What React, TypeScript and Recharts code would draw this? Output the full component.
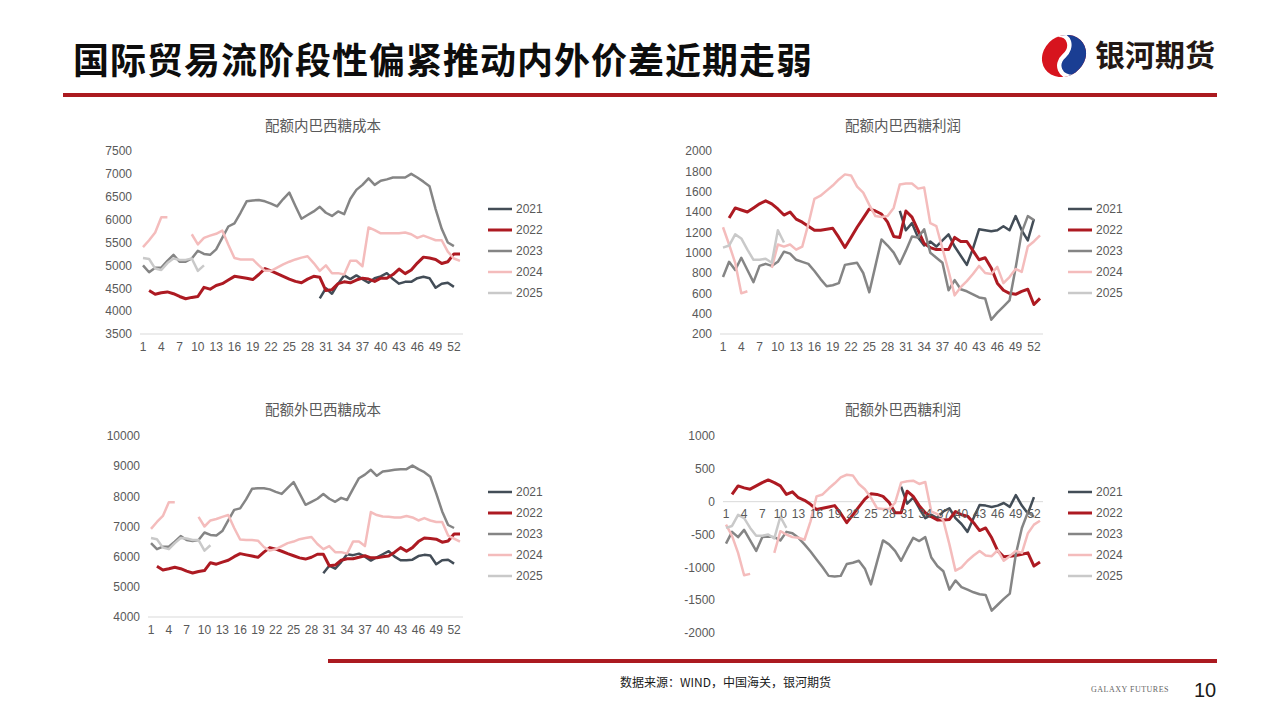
import React from 'react';
import { LineChart, Line, XAxis, YAxis, Legend, ReferenceLine } from 'recharts';

const _ = null;

const weeks = ['1','2','3','4','5','6','7','8','9','10','11','12','13','14','15','16','17','18','19','20','21','22','23','24','25','26','27','28','29','30','31','32','33','34','35','36','37','38','39','40','41','42','43','44','45','46','47','48','49','50','51','52','53'];
const seriesNames = ['2021', '2022', '2023', '2024', '2025'];
const seriesColors = ['#434d57', '#ad1a22', '#858585', '#f4bcbc', '#c9c9c9'];
const seriesWidths = [2.5, 3, 2.5, 2.5, 2.5];

// 配额内巴西糖成本
const inCost2021 = [_,_,_,_,_,_,_,_,_,_,_,_,_,_,_,_,_,_,_,_,_,_,_,_,_,_,_,_,_,4280,4500,4380,4600,4780,4700,4780,4700,4620,4720,4760,4830,4700,4600,4640,4640,4720,4750,4720,4510,4600,4620,4530,_];
const inCost2022 = [_,4450,4370,4400,4420,4380,4320,4270,4300,4320,4520,4480,4560,4600,4680,4760,4740,4720,4690,4800,4930,4880,4820,4760,4700,4650,4620,4700,4760,4740,4450,4470,4600,4640,4620,4680,4720,4700,4650,4720,4720,4800,4920,4820,4900,5050,5180,5160,5130,5040,5080,5250,5250];
const inCost2023 = [5000,4850,4950,4950,5100,5230,5080,5080,5150,5320,5250,5230,5350,5600,5850,5920,6150,6400,6420,6430,6400,6350,6290,6450,6590,6300,6020,6100,6180,6280,6150,6080,6180,6120,6450,6650,6760,6900,6760,6850,6880,6920,6920,6920,7000,6920,6830,6730,6230,5800,5500,5420,_];
const inCost2024 = [5400,5550,5720,6050,6050,_,_,_,5680,5460,5600,5650,5690,5760,5450,5160,5130,5130,5130,5000,4880,4880,4950,5020,5080,5130,5170,5200,5050,4880,5000,4830,4830,4800,5100,5100,4980,5830,5770,5700,5700,5700,5700,5720,5680,5600,5650,5600,5550,5550,5300,5150,5100];
const inCost2025 = [5160,5140,4930,4900,5050,5150,5120,5120,5150,4880,5000,_,_,_,_,_,_,_,_,_,_,_,_,_,_,_,_,_,_,_,_,_,_,_,_,_,_,_,_,_,_,_,_,_,_,_,_,_,_,_,_,_,_];

// 配额内巴西糖利润
const inProfit2021 = [_,_,_,_,_,_,_,_,_,_,_,_,_,_,_,_,_,_,_,_,_,_,_,_,_,_,_,_,_,1410,1220,1290,1150,1070,1110,1060,1120,1180,1060,970,880,1040,1230,1220,1210,1220,1260,1220,1360,1220,1120,1330,_];
const inProfit2022 = [_,1340,1440,1420,1400,1440,1480,1510,1480,1430,1370,1400,1330,1300,1260,1220,1220,1230,1240,1150,1050,1150,1250,1340,1430,1410,1380,1300,1160,1150,1410,1350,1220,1090,1050,1030,1030,1030,1150,1110,1110,1020,930,950,850,700,630,600,590,620,640,490,550];
const inProfit2023 = [760,910,830,950,830,710,870,890,870,910,1010,990,930,910,890,820,740,670,680,700,880,890,900,800,610,870,1130,1070,1000,890,1020,1160,1150,1230,1000,950,900,630,730,640,620,590,560,550,340,410,470,530,850,1200,1360,1320,_];
const inProfit2024 = [1250,1080,900,600,620,_,_,_,850,1080,1060,1080,1030,1060,1280,1530,1560,1610,1660,1720,1770,1760,1650,1590,1470,1360,1350,1360,1440,1670,1680,1680,1630,1640,1290,1260,1040,820,580,660,720,790,870,800,790,860,700,760,840,810,1060,1110,1170];
const inProfit2025 = [1050,1070,1180,1140,1030,930,930,940,900,1220,1100,_,_,_,_,_,_,_,_,_,_,_,_,_,_,_,_,_,_,_,_,_,_,_,_,_,_,_,_,_,_,_,_,_,_,_,_,_,_,_,_,_,_];

// 配额外巴西糖成本
const outCost2021 = [_,_,_,_,_,_,_,_,_,_,_,_,_,_,_,_,_,_,_,_,_,_,_,_,_,_,_,_,_,5450,5700,5600,5820,6080,6050,6100,6000,5870,5980,6080,6180,6000,5880,5880,5900,6020,6060,6040,5750,5880,5900,5770,_];
const outCost2022 = [_,5680,5560,5600,5650,5600,5520,5460,5510,5540,5800,5750,5820,5880,6000,6100,6060,6020,5980,6150,6300,6250,6180,6100,6030,5960,5920,5980,6080,6080,5700,5720,5880,5930,5930,5980,6030,5960,5960,6000,6020,6150,6300,6180,6300,6500,6620,6600,6580,6480,6520,6750,6750];
const outCost2023 = [6450,6250,6330,6330,6500,6680,6550,6520,6550,6800,6720,6700,6850,7200,7550,7600,7900,8250,8270,8270,8230,8150,8080,8280,8470,8100,7720,7820,7920,8080,7920,7820,7950,7880,8250,8600,8720,8880,8680,8820,8850,8880,8900,8900,9020,8900,8800,8650,8100,7500,7050,6950,_];
const outCost2024 = [6920,7150,7350,7800,7800,_,_,_,7320,7000,7200,7250,7320,7380,6950,6570,6550,6550,6530,6320,6200,6250,6350,6450,6500,6580,6620,6650,6420,6250,6350,6150,6150,6100,6500,6500,6350,7480,7380,7330,7320,7300,7300,7350,7300,7200,7280,7200,7150,7150,6700,6600,6500];
const outCost2025 = [6620,6580,6300,6250,6450,6620,6600,6550,6550,6200,6380,_,_,_,_,_,_,_,_,_,_,_,_,_,_,_,_,_,_,_,_,_,_,_,_,_,_,_,_,_,_,_,_,_,_,_,_,_,_,_,_,_,_];

// 配额外巴西糖利润
const outProfit2021 = [_,_,_,_,_,_,_,_,_,_,_,_,_,_,_,_,_,_,_,_,_,_,_,_,_,_,_,_,_,230,-30,60,-100,-250,-200,-250,-150,-100,-250,-340,-460,-250,-50,-60,-80,-60,-20,-80,100,-60,-180,70,_];
const outProfit2022 = [_,110,240,210,190,240,290,330,290,240,110,150,60,20,-40,-120,-100,-80,-60,-180,-320,-200,-80,40,120,110,80,-10,-170,-170,160,80,-60,-170,-230,-280,-280,-270,-150,-200,-220,-320,-440,-400,-550,-750,-840,-830,-820,-800,-780,-980,-920];
const outProfit2023 = [-640,-460,-540,-430,-590,-750,-540,-530,-540,-590,-460,-480,-550,-650,-760,-880,-1000,-1130,-1140,-1130,-950,-930,-900,-1020,-1260,-920,-590,-650,-750,-900,-720,-550,-600,-540,-850,-980,-1060,-1340,-1200,-1300,-1340,-1380,-1410,-1420,-1660,-1570,-1480,-1400,-800,-400,-160,-230,_];
const outProfit2024 = [-350,-520,-780,-1120,-1100,_,_,_,-780,-450,-500,-540,-550,-580,-300,80,110,200,280,370,410,400,270,190,60,-100,-110,-110,-20,290,310,320,270,300,-150,-190,-290,-650,-1050,-1000,-900,-820,-750,-820,-830,-740,-900,-830,-750,-780,-480,-350,-290];
const outProfit2025 = [-400,-370,-200,-250,-400,-520,-520,-500,-560,-230,-400,_,_,_,_,_,_,_,_,_,_,_,_,_,_,_,_,_,_,_,_,_,_,_,_,_,_,_,_,_,_,_,_,_,_,_,_,_,_,_,_,_,_];

const inCostTicks = [3500, 4000, 4500, 5000, 5500, 6000, 6500, 7000, 7500];
const inProfitTicks = [200, 400, 600, 800, 1000, 1200, 1400, 1600, 1800, 2000];
const outCostTicks = [4000, 5000, 6000, 7000, 8000, 9000, 10000];
const outProfitTicks = [-2000, -1500, -1000, -500, 0, 500, 1000];

const buildRows = (cols: (number | null)[][]) =>
  weeks.map((w, i) => {
    const row: Record<string, string | number | null> = { week: w };
    seriesNames.forEach((n, k) => {
      row[n] = cols[k][i];
    });
    return row;
  });

const inCostData = buildRows([inCost2021, inCost2022, inCost2023, inCost2024, inCost2025]);
const inProfitData = buildRows([inProfit2021, inProfit2022, inProfit2023, inProfit2024, inProfit2025]);
const outCostData = buildRows([outCost2021, outCost2022, outCost2023, outCost2024, outCost2025]);
const outProfitData = buildRows([outProfit2021, outProfit2022, outProfit2023, outProfit2024, outProfit2025]);

const NUM_FONT = '"Liberation Sans", Arial, sans-serif';
const CJK_FONT = '"Noto Sans CJK SC", "Noto Sans", sans-serif';
const AXIS_COLOR = '#595959';
const LEGEND_W = 97;

const renderLegend = (props: any) => {
  const payload = props.payload || [];
  return (
    <div style={{ width: LEGEND_W, paddingLeft: 25, boxSizing: 'border-box' }}>
      {payload.map((p: any, i: number) => {
        const idx = seriesNames.indexOf(String(p.value));
        return (
          <div key={i} style={{ display: 'flex', alignItems: 'center', height: 21 }}>
            <svg width={24} height={6} style={{ display: 'block' }}>
              <line x1={0} y1={3} x2={24} y2={3} stroke={p.color} strokeWidth={seriesWidths[idx] || 2.5} />
            </svg>
            <span style={{ marginLeft: 4, fontSize: 12, color: AXIS_COLOR, fontFamily: NUM_FONT }}>{p.value}</span>
          </div>
        );
      })}
    </div>
  );
};

type PanelProps = {
  left: number;
  top: number;
  width: number;
  height: number;
  yAxisWidth: number;
  domain: [number, number];
  ticks: number[];
  data: any[];
  title: string;
  titleX: number;
  titleY: number;
  legendTop: number;
  zeroAxis?: boolean;
};

const MARGIN = { top: 11, right: 0, bottom: 16, left: 0 };
const X_AXIS_H = 30;

function Panel(p: PanelProps) {
  const plotH = p.height - MARGIN.top - MARGIN.bottom - X_AXIS_H;
  const shift = p.zeroAxis ? (plotH * (0 - p.domain[0])) / (p.domain[1] - p.domain[0]) : 0;
  const tickRenderer = (t: any) => (
    <text
      x={t.x}
      y={t.y - shift}
      dy="0.71em"
      textAnchor="middle"
      fontSize={12}
      fill={AXIS_COLOR}
      fontFamily={NUM_FONT}
    >
      {t.payload.value}
    </text>
  );
  return (
    <>
      <div
        style={{
          position: 'absolute',
          left: p.titleX - 100,
          width: 200,
          top: p.titleY - 10,
          height: 20,
          lineHeight: '20px',
          textAlign: 'center',
          fontSize: 14.5,
          color: AXIS_COLOR,
          fontFamily: CJK_FONT,
        }}
      >
        {p.title}
      </div>
      <div style={{ position: 'absolute', left: p.left, top: p.top }}>
        <LineChart width={p.width} height={p.height} data={p.data} margin={MARGIN}>
          {p.zeroAxis && <ReferenceLine y={0} stroke="#d9d9d9" strokeWidth={1} />}
          <XAxis
            dataKey="week"
            interval={2}
            tickLine={false}
            axisLine={p.zeroAxis ? false : { stroke: '#d9d9d9' }}
            height={X_AXIS_H}
            padding={{ left: 3, right: 3 }}
            tick={tickRenderer}
          />
          <YAxis
            width={p.yAxisWidth}
            domain={p.domain}
            ticks={p.ticks}
            interval={0}
            allowDataOverflow
            axisLine={false}
            tickLine={false}
            tick={{ fontSize: 12, fill: AXIS_COLOR, fontFamily: NUM_FONT }}
          />
          <Legend
            layout="vertical"
            align="right"
            verticalAlign="top"
            width={LEGEND_W}
            wrapperStyle={{ top: p.legendTop }}
            content={renderLegend}
          />
          {seriesNames.map((n, k) => (
            <Line
              key={n}
              type="linear"
              dataKey={n}
              name={n}
              stroke={seriesColors[k]}
              strokeWidth={seriesWidths[k]}
              dot={false}
              activeDot={false}
              connectNulls={false}
              isAnimationActive={false}
              strokeLinejoin="round"
            />
          ))}
        </LineChart>
      </div>
    </>
  );
}

function Emblem() {
  return (
    <svg width={50} height={50} style={{ position: 'absolute', left: 1039, top: 31 }}>
      <defs>
        <clipPath id="emb">
          <ellipse cx={25} cy={25} rx={23} ry={20} transform="rotate(-35 25 25)" />
        </clipPath>
      </defs>
      <g clipPath="url(#emb)">
        <rect x={0} y={0} width={50} height={50} fill="#d7141e" />
        <path d="M 16 4 C 32 2, 34 17, 25 25 C 16 33, 20 47, 36 46 L 50 46 L 50 0 L 16 0 Z" fill="#1a3e93" />
        <path d="M 16 4 C 32 2, 34 17, 25 25 C 16 33, 20 47, 36 46" stroke="#ffffff" strokeWidth={4.5} fill="none" />
      </g>
    </svg>
  );
}

export default function App() {
  return (
    <div
      style={{
        position: 'absolute',
        left: 0,
        top: 0,
        width: 1280,
        height: 720,
        background: '#ffffff',
        overflow: 'hidden',
      }}
    >
      <div
        style={{
          position: 'absolute',
          left: 73,
          top: 38,
          fontSize: 36,
          lineHeight: '40px',
          fontWeight: 700,
          letterSpacing: 1,
          color: '#0d0d0d',
          fontFamily: CJK_FONT,
          whiteSpace: 'nowrap',
        }}
      >
        国际贸易流阶段性偏紧推动内外价差近期走弱
      </div>
      <Emblem />
      <div
        style={{
          position: 'absolute',
          left: 1095,
          top: 36,
          fontSize: 30,
          lineHeight: '34px',
          fontWeight: 700,
          color: '#231815',
          fontFamily: CJK_FONT,
          whiteSpace: 'nowrap',
        }}
      >
        银河期货
      </div>
      <div style={{ position: 'absolute', left: 63, top: 93, width: 1154, height: 4, background: '#ab1a20' }} />

      <Panel
        left={100}
        top={140}
        width={460}
        height={240}
        yAxisWidth={40}
        domain={[3500, 7500]}
        ticks={inCostTicks}
        data={inCostData}
        title="配额内巴西糖成本"
        titleX={323}
        titleY={125}
        legendTop={58}
      />
      <Panel
        left={680}
        top={140}
        width={460}
        height={240}
        yAxisWidth={40}
        domain={[200, 2000]}
        ticks={inProfitTicks}
        data={inProfitData}
        title="配额内巴西糖利润"
        titleX={903}
        titleY={125}
        legendTop={58}
      />
      <Panel
        left={100}
        top={425}
        width={460}
        height={238}
        yAxisWidth={48}
        domain={[4000, 10000]}
        ticks={outCostTicks}
        data={outCostData}
        title="配额外巴西糖成本"
        titleX={323}
        titleY={409}
        legendTop={56}
      />
      <Panel
        left={680}
        top={425}
        width={460}
        height={254}
        yAxisWidth={43}
        domain={[-2000, 1000]}
        ticks={outProfitTicks}
        data={outProfitData}
        title="配额外巴西糖利润"
        titleX={903}
        titleY={409}
        legendTop={56}
        zeroAxis
      />

      <div style={{ position: 'absolute', left: 328, top: 659, width: 889, height: 4, background: '#ab1a20' }} />
      <div
        style={{
          position: 'absolute',
          left: 620,
          top: 674,
          fontSize: 12,
          lineHeight: '16px',
          color: '#1a1a1a',
          fontFamily: CJK_FONT,
          whiteSpace: 'nowrap',
        }}
      >
        数据来源：WIND，中国海关，银河期货
      </div>
      <div
        style={{
          position: 'absolute',
          left: 1091,
          top: 685,
          fontSize: 8,
          lineHeight: '10px',
          letterSpacing: 0.5,
          color: '#666666',
          fontFamily: '"Liberation Serif", "DejaVu Serif", serif',
          whiteSpace: 'nowrap',
        }}
      >
        GALAXY FUTURES
      </div>
      <div
        style={{
          position: 'absolute',
          left: 1194,
          top: 678,
          fontSize: 20,
          lineHeight: '24px',
          color: '#1a1a1a',
          fontFamily: NUM_FONT,
          whiteSpace: 'nowrap',
        }}
      >
        10
      </div>
    </div>
  );
}
